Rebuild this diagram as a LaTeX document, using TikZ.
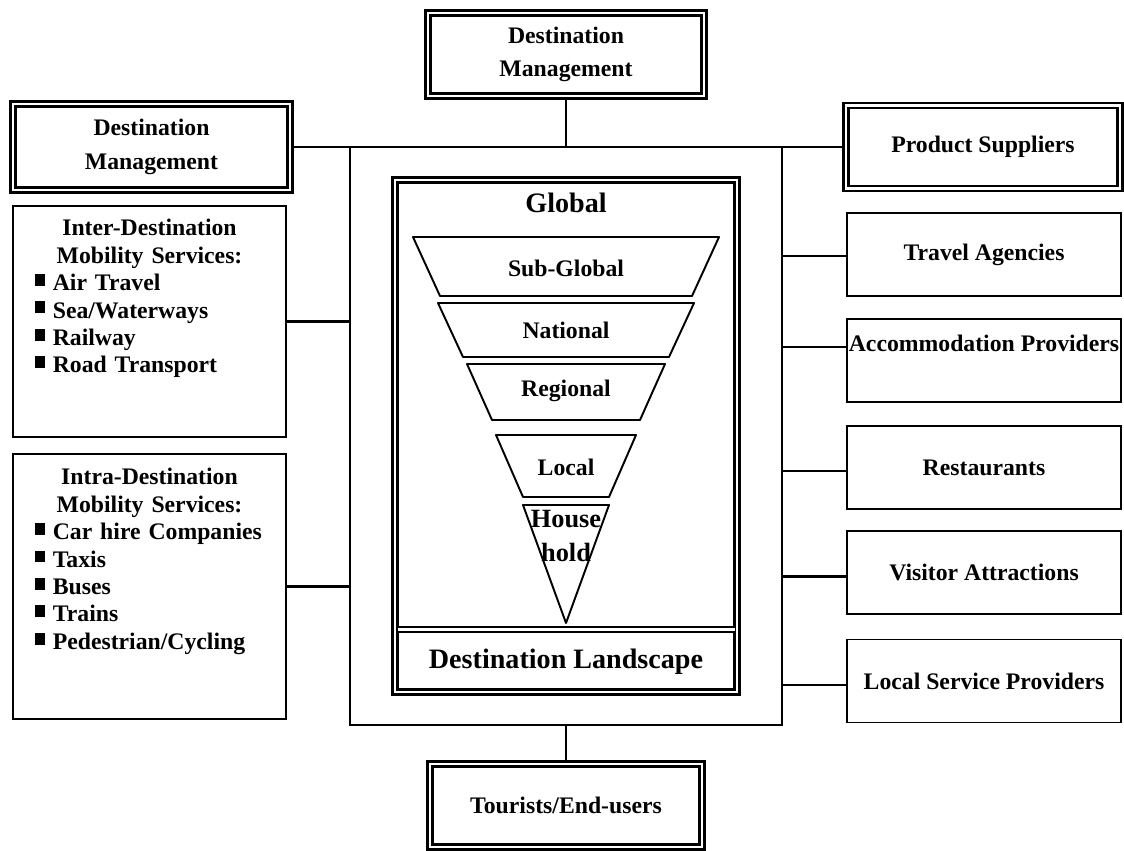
\documentclass[tikz,border=0pt]{standalone}
\usepackage{fontspec}
\setmainfont{Liberation Serif}
\usetikzlibrary{positioning}
\newcommand{\sqbul}{\raisebox{0.2em}{\rule{0.4em}{0.5em}}\hspace{0.35em}}

\begin{document}
\begin{tikzpicture}[
  x=0.02cm, y=-0.02cm,
  font=\bfseries\fontsize{13.5}{15.6}\selectfont,
  box/.style={draw,line width=1.1pt,inner sep=0pt,align=center,
              minimum width=5.48cm,minimum height=1.66cm},
  dbox/.style={box,double,double distance=1.5pt,line width=1.3pt,
               font=\bfseries\fontsize{13.5}{19}\selectfont},
  list/.style={inner sep=0pt,align=left,text width=4.58cm},
  layer/.style={draw,line width=1.1pt,line join=round},
  link/.style={line width=1.2pt},
  big/.style={font=\bfseries\fontsize{16}{19}\selectfont}
]
\useasboundingbox (0,0) rectangle (1124,850);

% frame round the destination
\node[draw,line width=1.1pt,minimum width=8.64cm,minimum height=11.56cm] (hub) at (566,436) {};

% management, suppliers and users
\node[dbox,minimum width=5.52cm] (tdm) at (566,54.5) {Destination\\Management};
\node[dbox,minimum width=5.54cm,minimum height=1.72cm] (ldm) at (151.5,147) {Destination\\Management};
\node[dbox] (ps) at (983,147) {Product Suppliers};
\node[dbox,minimum width=5.44cm] (tour) at (566,805.5) {Tourists/End-users};

% mobility services
\node[box,minimum width=5.46cm,minimum height=4.62cm] (inter) at (149.5,321.5) {};
\node[list,below=0.28cm of inter.north] (intertxt) {\makebox[\hsize]{Inter-Destination}\\
  \makebox[\hsize]{Mobility Services:}\\
  \sqbul Air Travel\\ \sqbul Sea/Waterways\\ \sqbul Railway\\ \sqbul Road Transport};
\node[box,minimum width=5.46cm,minimum height=5.3cm] (intra) at (149.5,586.5) {};
\node[list,below=0.3cm of intra.north] (intratxt) {\makebox[\hsize]{Intra-Destination}\\
  \makebox[\hsize]{Mobility Services:}\\
  \sqbul Car hire Companies\\ \sqbul Taxis\\ \sqbul Buses\\ \sqbul Trains\\
  \sqbul Pedestrian/Cycling};

% product suppliers
\node[box] (ta) at (984,254.5) {Travel Agencies};
\node[box,text depth=20pt] (acc) at (984,360.5) {Accommodation Providers};
\node[box] (rest) at (984,467.5) {Restaurants};
\node[box] (va) at (984,572.5) {Visitor Attractions};
\node[box] (lsp) at (984,681) {Local Service Providers};

% destination landscape
\node[draw,double,double distance=1.5pt,line width=1.3pt,
      minimum width=6.84cm,minimum height=10.24cm] (land) at (566,436) {};
\draw[double,double distance=1.5pt,line width=1.3pt]
  ([xshift=2.05pt,yshift=1.27cm]land.south west) -- ([xshift=-2.05pt,yshift=1.27cm]land.south east);
\node[big] (glob) at (566,203) {Global};
\node[big] (dl) at (566,662) {Destination Landscape};

% funnel of levels
\draw[layer] (413,237) -- (719,237) -- (692,296) -- (440,296) -- cycle;
\node (sub) at (566,268) {Sub-Global};
\draw[layer] (438,303) -- (694,303) -- (669,357) -- (463,357) -- cycle;
\node (nat) at (566,330) {National};
\draw[layer] (467,364) -- (665,364) -- (640,420) -- (492,420) -- cycle;
\node (reg) at (566,391) {Regional};
\draw[layer] (496,435) -- (636,435) -- (609,497) -- (523,497) -- cycle;
\node (loc) at (566,467) {Local};
\draw[layer] (523,505) -- (609,505) -- (566,623) -- cycle;
\node[align=center,font=\bfseries\fontsize{15}{19}\selectfont] (hh) at (566,536) {House\\hold};

% links
\draw[link] (tdm.south) -- (hub.north);
\draw[link] (ldm.east) -- (ps.west);
\draw[link] (hub.south) -- (tour.north);
\draw[link] (inter.east) -- (hub.west |- inter.east);
\draw[link] (intra.east) -- (hub.west |- intra.east);
\foreach \n in {ta,acc,rest,va,lsp}
  \draw[link] (hub.east |- \n.mid west) -- (\n.mid west);
\end{tikzpicture}
\end{document}
